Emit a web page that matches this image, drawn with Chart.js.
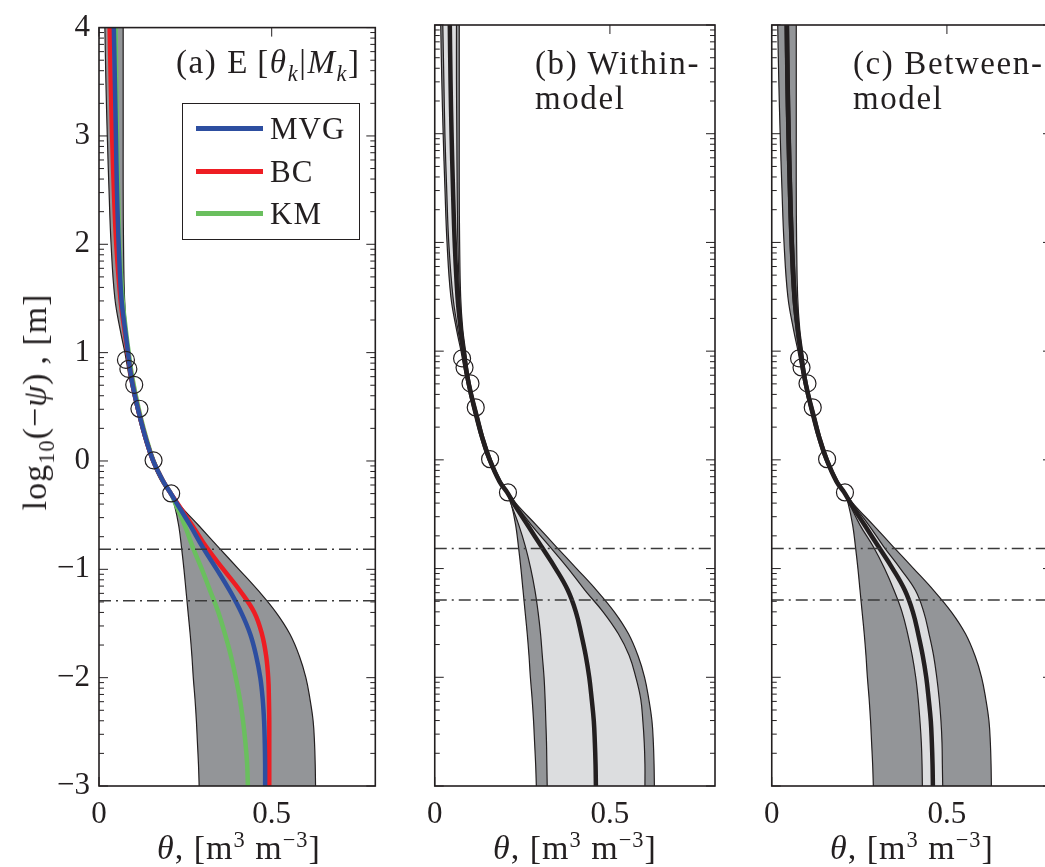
<!DOCTYPE html>
<html lang="en">
<head>
<meta charset="UTF-8" />
<title>Retention curves</title>
<style>
  html, body { margin: 0; padding: 0; background: #fff; overflow: hidden; }
  body { width: 1045px; height: 867px; position: relative; font-family: 'Liberation Serif', serif; color: #231f20; }
  canvas { position: absolute; top: 0; }
  .txt { position: absolute; white-space: nowrap; font-size: 33px; line-height: 35px; letter-spacing: 1.6px; }
  .txt sub, .txt sup { font-size: 0.68em; line-height: 0; }
  .xt { position: absolute; top: 830px; width: 320px; margin-left: -160px; text-align: center; font-size: 34px; line-height: 36px; white-space: nowrap; letter-spacing: 1px; }
  .xt sup { font-size: 0.66em; line-height: 0; }
  .yt { position: absolute; left: 35px; top: 402px; transform: translate(-50%, -50%) rotate(-90deg); font-size: 34px; line-height: 36px; white-space: nowrap; letter-spacing: 1px; }
  .yt sub { font-size: 0.66em; line-height: 0; }
  #legend { position: absolute; left: 182px; top: 103px; width: 176px; height: 135px; border: 1px solid #231f20; background: #fff; }
  #legend .sw { position: absolute; left: 13px; width: 67px; height: 5px; }
  #legend .nm { position: absolute; left: 87px; font-size: 31px; line-height: 34px; letter-spacing: 1px; }
</style>
<script src="https://cdn.jsdelivr.net/npm/chart.js"></script>
</head>
<body>
  <canvas id="ca" width="385" height="867" style="left:0"></canvas>
  <canvas id="cb" width="308" height="867" style="left:417px"></canvas>
  <canvas id="cc" width="308" height="867" style="left:754px"></canvas>

  <div class="yt">log<sub>10</sub>(−<i>ψ</i>)&thinsp;, [m]</div>
  <div class="xt" style="left:239px"><i>θ</i>, [m<sup>3</sup> m<sup>−3</sup>]</div>
  <div class="xt" style="left:575px"><i>θ</i>, [m<sup>3</sup> m<sup>−3</sup>]</div>
  <div class="xt" style="left:912px"><i>θ</i>, [m<sup>3</sup> m<sup>−3</sup>]</div>

  <div class="txt" style="left:176px; top:45px">(a) E&thinsp;[<i>θ<sub>k</sub></i>|<i>M<sub>k</sub></i>]</div>
  <div class="txt" style="left:535px; top:46px">(b) Within-<br>model</div>
  <div class="txt" style="left:853px; top:46px">(c) Between-<br>model</div>

  <div id="legend">
    <div class="sw" style="top:22px; background:#2d4ea0"></div><div class="nm" style="top:8px">MVG</div>
    <div class="sw" style="top:65px; background:#ee1d23"></div><div class="nm" style="top:51px">BC</div>
    <div class="sw" style="top:107px; background:#6abf5e"></div><div class="nm" style="top:93px">KM</div>
  </div>

  <script>
    // log10(-psi) levels, bottom to top
    const logPsi = [-3.0, -2.8, -2.6, -2.4, -2.2, -2.0, -1.8, -1.6, -1.4, -1.2, -1.0, -0.8, -0.6, -0.4, -0.3,
                    -0.2, 0, 0.2, 0.4, 0.6, 0.8, 1.0, 1.2, 1.5, 2.0, 2.5, 3.0, 3.5, 4.0];

    // total predictive band (dark gray)
    const totalLo = [0.290, 0.288, 0.285, 0.282, 0.278, 0.273, 0.269, 0.264, 0.258, 0.252, 0.246, 0.239, 0.231, 0.218, 0.207,
                     0.182, 0.152, 0.131, 0.114, 0.099, 0.086, 0.075, 0.062, 0.046, 0.035, 0.029, 0.024, 0.020, 0.017];
    const totalHi = [0.627, 0.626, 0.624, 0.620, 0.611, 0.599, 0.580, 0.553, 0.513, 0.462, 0.405, 0.347, 0.290, 0.232, 0.211,
                     0.190, 0.162, 0.141, 0.124, 0.108, 0.096, 0.088, 0.080, 0.074, 0.071, 0.070, 0.070, 0.070, 0.070];

    // BMA mean
    const meanTheta = [0.460, 0.459, 0.457, 0.454, 0.448, 0.441, 0.431, 0.418, 0.403, 0.380, 0.345, 0.305, 0.265, 0.225, 0.207,
                       0.185, 0.157, 0.136, 0.120, 0.104, 0.091, 0.082, 0.074, 0.065, 0.057, 0.052, 0.048, 0.045, 0.043];

    // within-model band (b)
    const withinLo = [0.321, 0.320, 0.319, 0.317, 0.315, 0.312, 0.307, 0.302, 0.295, 0.286, 0.274, 0.259, 0.240, 0.217, 0.205,
                      0.183, 0.154, 0.133, 0.116, 0.101, 0.088, 0.078, 0.066, 0.052, 0.040, 0.034, 0.029, 0.026, 0.023];
    const withinHi = [0.600, 0.600, 0.598, 0.594, 0.588, 0.574, 0.555, 0.524, 0.481, 0.429, 0.381, 0.329, 0.276, 0.229, 0.209,
                      0.188, 0.160, 0.139, 0.122, 0.106, 0.094, 0.086, 0.078, 0.071, 0.066, 0.064, 0.063, 0.062, 0.062];

    // between-model band (c)
    const betweenLo = [0.430, 0.429, 0.427, 0.423, 0.418, 0.411, 0.401, 0.388, 0.372, 0.349, 0.322, 0.290, 0.252, 0.221, 0.206,
                       0.184, 0.156, 0.135, 0.118, 0.102, 0.089, 0.079, 0.070, 0.060, 0.052, 0.047, 0.043, 0.040, 0.038];
    const betweenHi = [0.488, 0.487, 0.486, 0.483, 0.478, 0.471, 0.462, 0.449, 0.434, 0.410, 0.367, 0.320, 0.277, 0.230, 0.208,
                       0.186, 0.158, 0.137, 0.122, 0.106, 0.093, 0.085, 0.078, 0.070, 0.062, 0.057, 0.053, 0.050, 0.048];

    // expected curves per model (a)
    const mvg = [0.481, 0.481, 0.480, 0.478, 0.474, 0.467, 0.455, 0.438, 0.412, 0.379, 0.341, 0.301, 0.265, 0.227, 0.208,
                 0.188, 0.157, 0.136, 0.119, 0.104, 0.092, 0.084, 0.076, 0.065, 0.057, 0.052, 0.049, 0.046, 0.043];
    const bc  = [0.493, 0.493, 0.493, 0.493, 0.492, 0.490, 0.484, 0.472, 0.450, 0.409, 0.360, 0.312, 0.271, 0.229, 0.208,
                 0.188, 0.157, 0.136, 0.119, 0.104, 0.092, 0.083, 0.074, 0.062, 0.050, 0.043, 0.038, 0.034, 0.031];
    const km  = [0.431, 0.429, 0.424, 0.417, 0.408, 0.396, 0.382, 0.365, 0.346, 0.322, 0.298, 0.272, 0.249, 0.222, 0.208,
                 0.188, 0.158, 0.138, 0.121, 0.107, 0.095, 0.086, 0.078, 0.068, 0.059, 0.055, 0.052, 0.050, 0.048];

    // measured points
    const obsTheta  = [0.078, 0.085, 0.102, 0.117, 0.158, 0.209];
    const obsLogPsi = [0.933, 0.850, 0.703, 0.482, 0.006, -0.300];

    // dash-dot reference levels
    const refLevels = [-0.815, -1.29];

    const yTicks = [-3, -2, -1, 0, 1, 2, 3, 4];
    const xTicks = [0, 0.5];

    const ink = '#231f20';
    const darkGray = '#939598';
    const lightGray = '#dcdddf';

    const pts = xs => xs.map((x, i) => ({ x: x, y: logPsi[i] }));

    function edge(xs, extra) {
      return Object.assign({
        data: pts(xs), borderColor: ink, borderWidth: 1.2, pointRadius: 0,
        tension: 0.4, fill: false
      }, extra);
    }
    function curve(xs, color, order) {
      return { data: pts(xs), borderColor: color, borderWidth: 4.5, pointRadius: 0,
               tension: 0.4, fill: false, order: order };
    }
    function refs() {
      return refLevels.map(v => ({
        data: [{ x: 0, y: v }, { x: 0.8, y: v }], borderColor: '#3a3a3a', borderWidth: 1.5,
        borderDash: [12, 5, 2, 5], pointRadius: 0, tension: 0, fill: false, order: 2
      }));
    }
    function obs() {
      return {
        data: obsTheta.map((x, i) => ({ x: x, y: obsLogPsi[i] })), showLine: false,
        pointRadius: 8.5, pointBorderWidth: 1.2, pointBorderColor: ink,
        pointBackgroundColor: 'rgba(0,0,0,0)', order: 1
      };
    }

    const minorTicks = [];
    for (let n = -3; n < 4; n++) for (let k = 2; k <= 9; k++) minorTicks.push(n + Math.log10(k));

    const frame = {
      id: 'frame',
      beforeDatasetsDraw(chart) {
        const { ctx, chartArea: a, scales: { x, y } } = chart;
        ctx.save();
        ctx.strokeStyle = ink;
        ctx.lineWidth = 1;
        ctx.beginPath();
        yTicks.forEach(v => {
          const p = y.getPixelForValue(v);
          ctx.moveTo(a.left, p); ctx.lineTo(a.left + 9, p);
          ctx.moveTo(a.right, p); ctx.lineTo(a.right - 9, p);
        });
        minorTicks.forEach(v => {
          const p = y.getPixelForValue(v);
          ctx.moveTo(a.left, p); ctx.lineTo(a.left + 5, p);
          ctx.moveTo(a.right, p); ctx.lineTo(a.right - 5, p);
        });
        xTicks.forEach(v => {
          const p = x.getPixelForValue(v);
          ctx.moveTo(p, a.top); ctx.lineTo(p, a.top + 9);
          ctx.moveTo(p, a.bottom); ctx.lineTo(p, a.bottom - 9);
        });
        ctx.stroke();
        ctx.restore();
      },
      afterDatasetsDraw(chart) {
        const { ctx, chartArea: a } = chart;
        ctx.save();
        ctx.strokeStyle = ink;
        ctx.lineWidth = 1.6;
        ctx.strokeRect(a.left, a.top, a.right - a.left, a.bottom - a.top);
        ctx.restore();
      }
    };

    const fmt = v => (v < 0 ? '\u2212' + Math.abs(v) : String(v));

    function makePanel(id, datasets, showY, yWidth) {
      new Chart(document.getElementById(id), {
        type: 'line',
        data: { datasets: datasets },
        options: {
          responsive: false,
          animation: false,
          indexAxis: 'y',
          layout: { padding: { top: 25, right: id === 'ca' ? 6 : 10, bottom: 0, left: 0 } },
          plugins: { legend: { display: false }, tooltip: { enabled: false } },
          scales: {
            x: {
              type: 'linear', position: 'bottom', min: 0, max: 0.8,
              grid: { display: false, drawTicks: false }, border: { display: false },
              afterBuildTicks: s => { s.ticks = xTicks.map(v => ({ value: v })); },
              afterFit: s => { s.height = 81; },
              ticks: { color: ink, padding: 10, maxRotation: 0, autoSkip: false,
                       font: { family: 'Liberation Serif', size: 31 }, callback: fmt }
            },
            y: {
              type: 'linear', position: 'left', min: -3, max: 4,
              grid: { display: false, drawTicks: false }, border: { display: false },
              afterBuildTicks: s => { s.ticks = yTicks.map(v => ({ value: v })); },
              afterFit: s => { s.width = yWidth; },
              ticks: { display: showY, color: ink, padding: 9,
                       font: { family: 'Liberation Serif', size: 31 }, callback: fmt }
            }
          }
        },
        plugins: [frame]
      });
    }

    // (a) model expectations
    makePanel('ca', [
      edge(totalLo, { fill: '+1', backgroundColor: darkGray, order: 11 }),
      edge(totalHi, { order: 10 }),
      curve(km, '#6abf5e', 5),
      curve(bc, '#ee1d23', 4),
      curve(mvg, '#2d4ea0', 3),
      ...refs(),
      obs()
    ], true, 99);

    // (b) within-model variance
    makePanel('cb', [
      edge(totalLo, { fill: '+1', backgroundColor: darkGray, order: 21 }),
      edge(totalHi, { order: 20 }),
      edge(withinLo, { fill: '+1', backgroundColor: lightGray, order: 19 }),
      edge(withinHi, { order: 18 }),
      curve(meanTheta, ink, 5),
      ...refs(),
      obs()
    ], false, 10);

    // (c) between-model variance
    makePanel('cc', [
      edge(totalLo, { fill: '+1', backgroundColor: darkGray, order: 21 }),
      edge(totalHi, { order: 20 }),
      edge(betweenLo, { fill: '+1', backgroundColor: lightGray, order: 19 }),
      edge(betweenHi, { order: 18 }),
      curve(meanTheta, ink, 5),
      ...refs(),
      obs()
    ], false, 10);
  </script>
</body>
</html>
